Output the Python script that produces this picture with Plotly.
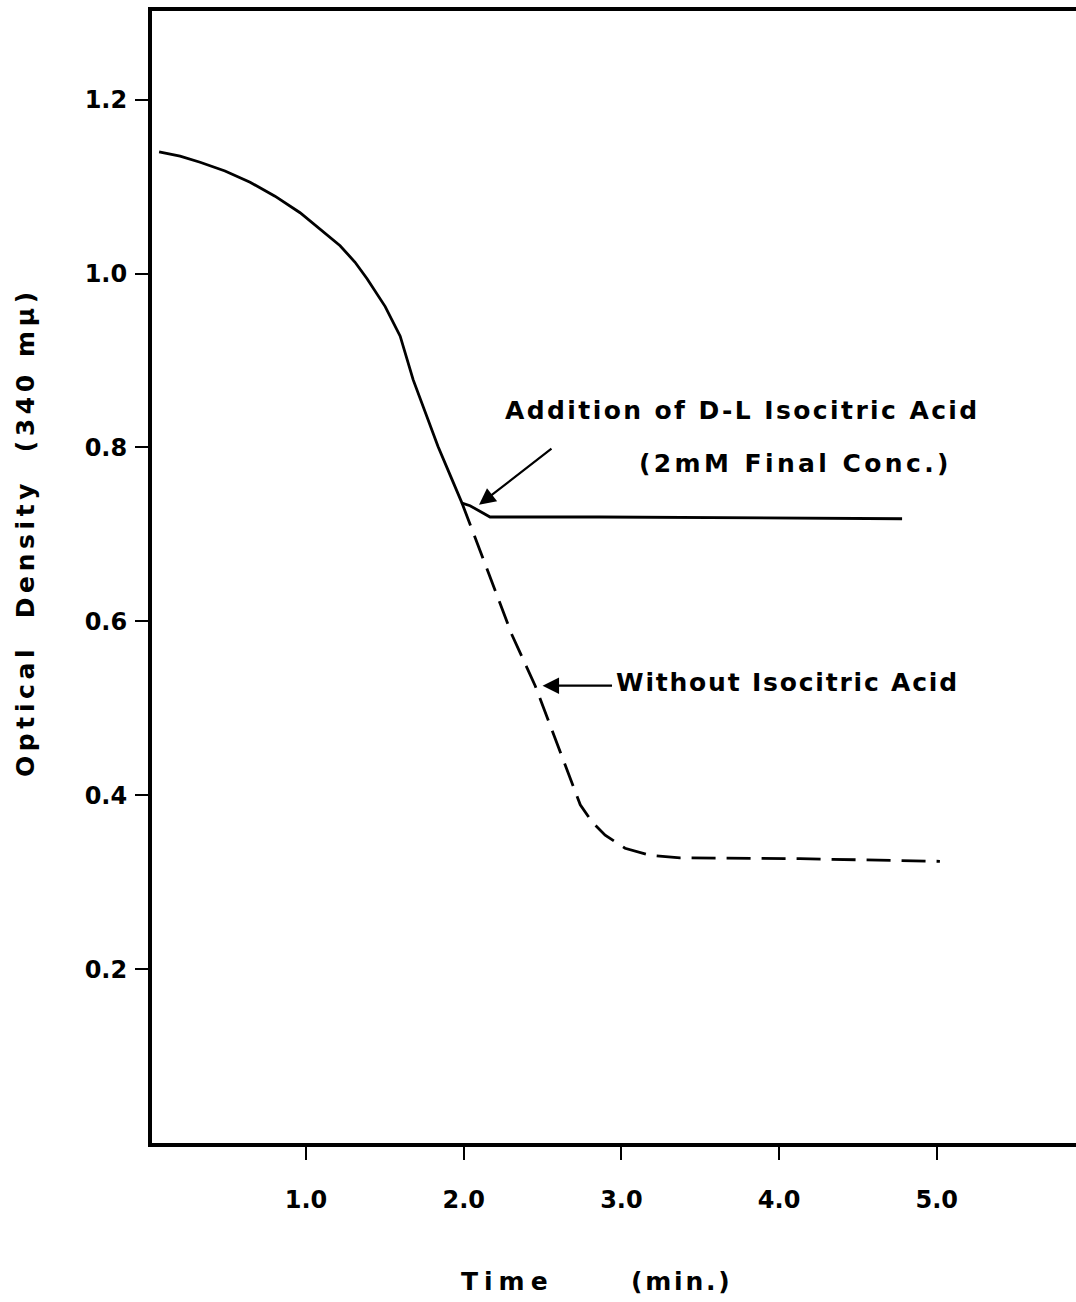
import plotly.graph_objects as go

# Optical density at 340 mμ versus time (min)
t_with = [0.068, 0.201, 0.328, 0.486, 0.645, 0.803, 0.962, 1.089, 1.216, 1.311,
          1.387, 1.502, 1.597, 1.679, 1.837, 1.926, 1.989, 2.04, 2.167, 2.86, 3.81, 4.78]
od_with = [1.140, 1.135, 1.128, 1.118, 1.105, 1.089, 1.070, 1.051, 1.032, 1.013,
           0.994, 0.962, 0.928, 0.878, 0.801, 0.763, 0.736, 0.733, 0.720, 0.720, 0.719, 0.718]

t_without = [1.989, 2.307, 2.453, 2.612, 2.739, 2.815, 2.897, 3.023, 3.182, 3.372, 4.133, 5.02]
od_without = [0.736, 0.584, 0.526, 0.450, 0.389, 0.369, 0.354, 0.339, 0.331, 0.328, 0.327, 0.324]

x_ticks = [1, 2, 3, 4, 5]
x_tick_text = ["1.0", "2.0", "3.0", "4.0", "5.0"]
y_ticks = [0.2, 0.4, 0.6, 0.8, 1.0, 1.2]
y_tick_text = ["0.2", "0.4", "0.6", "0.8", "1.0", "1.2"]

FONT = "DejaVu Sans"
INK = "#000000"
LABEL_SIZE = 25


def spaced(text, px):
    return f'<span style="letter-spacing:{px}px;font-weight:bold">{text}</span>'


fig = go.Figure()
fig.add_trace(go.Scatter(x=t_with, y=od_with, mode="lines",
                         line=dict(color=INK, width=2.8), showlegend=False))
fig.add_trace(go.Scatter(x=t_without, y=od_without, mode="lines",
                         line=dict(color=INK, width=2.8, dash="24px,11px"),
                         showlegend=False))

tick_font = dict(size=24, family=FONT, weight="bold")

fig.update_layout(
    width=1076, height=1302,
    margin=dict(l=152, r=0, t=11, b=159),
    paper_bgcolor="white", plot_bgcolor="white",
    font=dict(family=FONT, color=INK, size=LABEL_SIZE),
    xaxis=dict(range=[0.023, 5.883], showgrid=False, zeroline=False,
               showline=True, linecolor=INK, linewidth=4, mirror=True,
               tickmode="array", tickvals=x_ticks, ticktext=x_tick_text,
               ticks="outside", ticklen=13, tickwidth=2, tickcolor=INK,
               ticklabelstandoff=19, tickfont=tick_font),
    yaxis=dict(range=[0, 1.302], showgrid=False, zeroline=False,
               showline=True, linecolor=INK, linewidth=4, mirror=False,
               tickmode="array", tickvals=y_ticks, ticktext=y_tick_text,
               ticks="outside", ticklen=13, tickwidth=2, tickcolor=INK,
               ticklabelstandoff=3, tickfont=tick_font),
)

annotations = [
    # arrow to the point where isocitric acid is added
    dict(x=2.097, y=0.734, ax=2.566, ay=0.80, xref="x", yref="y",
         axref="x", ayref="y", text="", showarrow=True, arrowhead=2,
         arrowsize=1.5, arrowwidth=2.2, arrowcolor=INK),
    dict(x=2.25, y=0.843, xref="x", yref="y", xanchor="left", yanchor="middle",
         text=spaced("Addition of D-L Isocitric Acid", 2.4), showarrow=False,
         font=dict(size=LABEL_SIZE)),
    dict(x=3.10, y=0.782, xref="x", yref="y", xanchor="left", yanchor="middle",
         text=spaced("(2mM Final Conc.)", 3.4), showarrow=False,
         font=dict(size=LABEL_SIZE)),
    # arrow to the dashed curve
    dict(x=2.50, y=0.526, ax=2.95, ay=0.526, xref="x", yref="y",
         axref="x", ayref="y", text="", showarrow=True, arrowhead=2,
         arrowsize=1.5, arrowwidth=2.2, arrowcolor=INK),
    dict(x=2.953, y=0.530, xref="x", yref="y", xanchor="left", yanchor="middle",
         text=spaced("Without Isocitric Acid", 1.8), showarrow=False,
         font=dict(size=LABEL_SIZE)),
    # axis titles
    dict(x=(507 - 152) / 924, y=(1143 - 1281) / 1132, xref="paper", yref="paper",
         xanchor="center", yanchor="middle", text=spaced("Time", 6),
         showarrow=False, font=dict(size=LABEL_SIZE)),
    dict(x=(682 - 152) / 924, y=(1143 - 1281) / 1132, xref="paper", yref="paper",
         xanchor="center", yanchor="middle", text=spaced("(min.)", 2.8),
         showarrow=False, font=dict(size=LABEL_SIZE)),
    dict(x=(25 - 152) / 924, y=(1143 - 532) / 1132, xref="paper", yref="paper",
         xanchor="center", yanchor="middle", textangle=-90,
         text=spaced("Optical  Density  (340 mμ)", 4.6),
         showarrow=False, font=dict(size=LABEL_SIZE)),
]
fig.update_layout(annotations=annotations)

fig.write_html("out.html")
